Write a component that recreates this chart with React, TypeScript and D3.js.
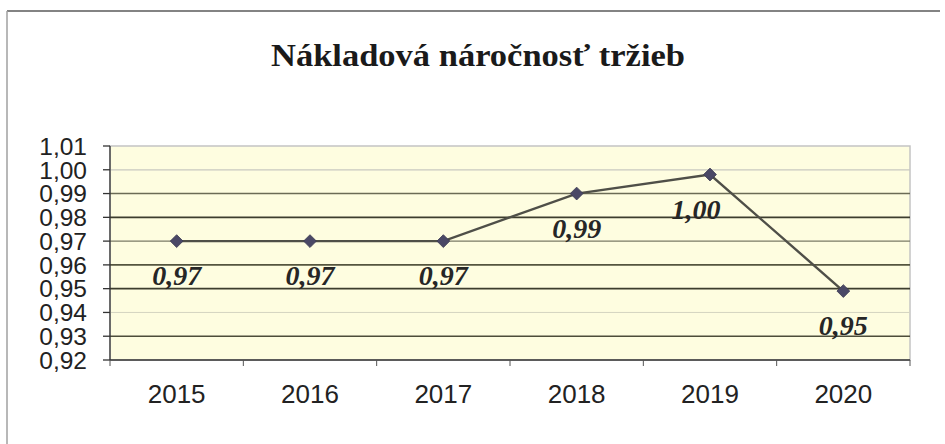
import React from "react";
import * as d3 from "d3";

const years = ["2015", "2016", "2017", "2018", "2019", "2020"];
const values = [0.97, 0.97, 0.97, 0.99, 0.998, 0.949];
const valueLabels = ["0,97", "0,97", "0,97", "0,99", "1,00", "0,95"];
const yTicks = [0.92, 0.93, 0.94, 0.95, 0.96, 0.97, 0.98, 0.99, 1.0, 1.01];
const gridTicks = [0.93, 0.94, 0.95, 0.96, 0.97, 0.98, 0.99, 1.0];
const title = "Nákladová náročnosť tržieb";

const W = 945;
const H = 444;
const plot = { left: 110, right: 910, top: 146, bottom: 360 };

// visual weight of each grid line (style only)
const gridStyle: Record<string, { stroke: string; width: number }> = {
  "0.93": { stroke: "#4d4d3a", width: 1.6 },
  "0.94": { stroke: "#d4d4c0", width: 1 },
  "0.95": { stroke: "#3d3d2e", width: 1.8 },
  "0.96": { stroke: "#55553f", width: 1.6 },
  "0.97": { stroke: "#7a7a66", width: 1.4 },
  "0.98": { stroke: "#3d3d2e", width: 1.8 },
  "0.99": { stroke: "#6b6b55", width: 1.4 },
  "1.00": { stroke: "#c8c8c0", width: 1.2 },
};

export default function App() {
  const x = d3.scaleBand<string>().domain(years).range([plot.left, plot.right]);
  const y = d3.scaleLinear().domain([0.92, 1.01]).range([plot.bottom, plot.top]);
  const cx = (yr: string) => (x(yr) as number) + x.bandwidth() / 2;
  const pts: [number, number][] = years.map((yr, i) => [cx(yr), y(values[i])]);
  const line = d3.line<[number, number]>()(pts) as string;
  const diamond = d3.symbol().type(d3.symbolDiamond2).size(105)() as string;
  const fmt = (v: number) => d3.format(".2f")(v).replace(".", ",");
  const bandEdges = years.map((yr) => x(yr) as number).concat([plot.right]);

  return (
    <svg
      width={W}
      height={H}
      style={{ position: "absolute", left: 0, top: 0, background: "#fff" }}
    >
      {/* outer frame */}
      <line x1={7} y1={11} x2={940} y2={11} stroke="#5a5a5a" strokeWidth={1.5} />
      <line x1={7} y1={11} x2={7} y2={H} stroke="#a0a0a0" strokeWidth={1.5} />

      {/* title */}
      <text
        x={478}
        y={66}
        textAnchor="middle"
        fontFamily="'Liberation Serif', 'DejaVu Serif', serif"
        fontWeight="bold"
        fontSize={32}
        fill="#1a1a1a"
        textLength={414}
        lengthAdjust="spacingAndGlyphs"
      >
        {title}
      </text>

      {/* plot area */}
      <rect
        x={plot.left}
        y={plot.top}
        width={plot.right - plot.left}
        height={plot.bottom - plot.top}
        fill="#fefde0"
        stroke="#c4c4c4"
        strokeWidth={1.5}
      />

      {/* grid lines */}
      {gridTicks.map((t) => {
        const s = gridStyle[t.toFixed(2)];
        return (
          <line
            key={"g" + t}
            x1={plot.left}
            x2={plot.right}
            y1={y(t)}
            y2={y(t)}
            stroke={s.stroke}
            strokeWidth={s.width}
          />
        );
      })}

      {/* y axis */}
      <line x1={plot.left} x2={plot.left} y1={plot.top} y2={plot.bottom} stroke="#333" strokeWidth={1.3} />
      {yTicks.map((t) => (
        <g key={"y" + t}>
          <line x1={plot.left - 7} x2={plot.left} y1={y(t)} y2={y(t)} stroke="#333" strokeWidth={1.3} />
          <text
            x={87}
            y={y(t)}
            dy="0.36em"
            textAnchor="end"
            fontFamily="'Liberation Sans', Arial, sans-serif"
            fontSize={24.5}
            fill="#222"
          >
            {fmt(t)}
          </text>
        </g>
      ))}

      {/* x axis */}
      <line x1={plot.left} x2={plot.right} y1={plot.bottom} y2={plot.bottom} stroke="#333" strokeWidth={1.6} />
      {bandEdges.map((e, i) => (
        <line key={"xt" + i} x1={e} x2={e} y1={plot.bottom} y2={plot.bottom + 6} stroke="#555" strokeWidth={1} />
      ))}
      {years.map((yr) => (
        <text
          key={"xl" + yr}
          x={cx(yr)}
          y={403}
          textAnchor="middle"
          fontFamily="'Liberation Sans', Arial, sans-serif"
          fontSize={26}
          fill="#222"
        >
          {yr}
        </text>
      ))}

      {/* series line */}
      <path d={line} fill="none" stroke="#4f4f48" strokeWidth={2.4} />
      {pts.map((p, i) => (
        <path key={"m" + i} d={diamond} transform={`translate(${p[0]},${p[1]})`} fill="#4a4866" stroke="#3a3850" strokeWidth={0.8} />
      ))}

      {/* data labels */}
      {pts.map((p, i) => (
        <text
          key={"dl" + i}
          x={p[0] + (i === 4 ? -14 : 0)}
          y={p[1] + 44}
          textAnchor="middle"
          fontFamily="'Liberation Serif', 'DejaVu Serif', serif"
          fontWeight="bold"
          fontStyle="italic"
          fontSize={28}
          fill="#262626"
        >
          {valueLabels[i]}
        </text>
      ))}
    </svg>
  );
}
